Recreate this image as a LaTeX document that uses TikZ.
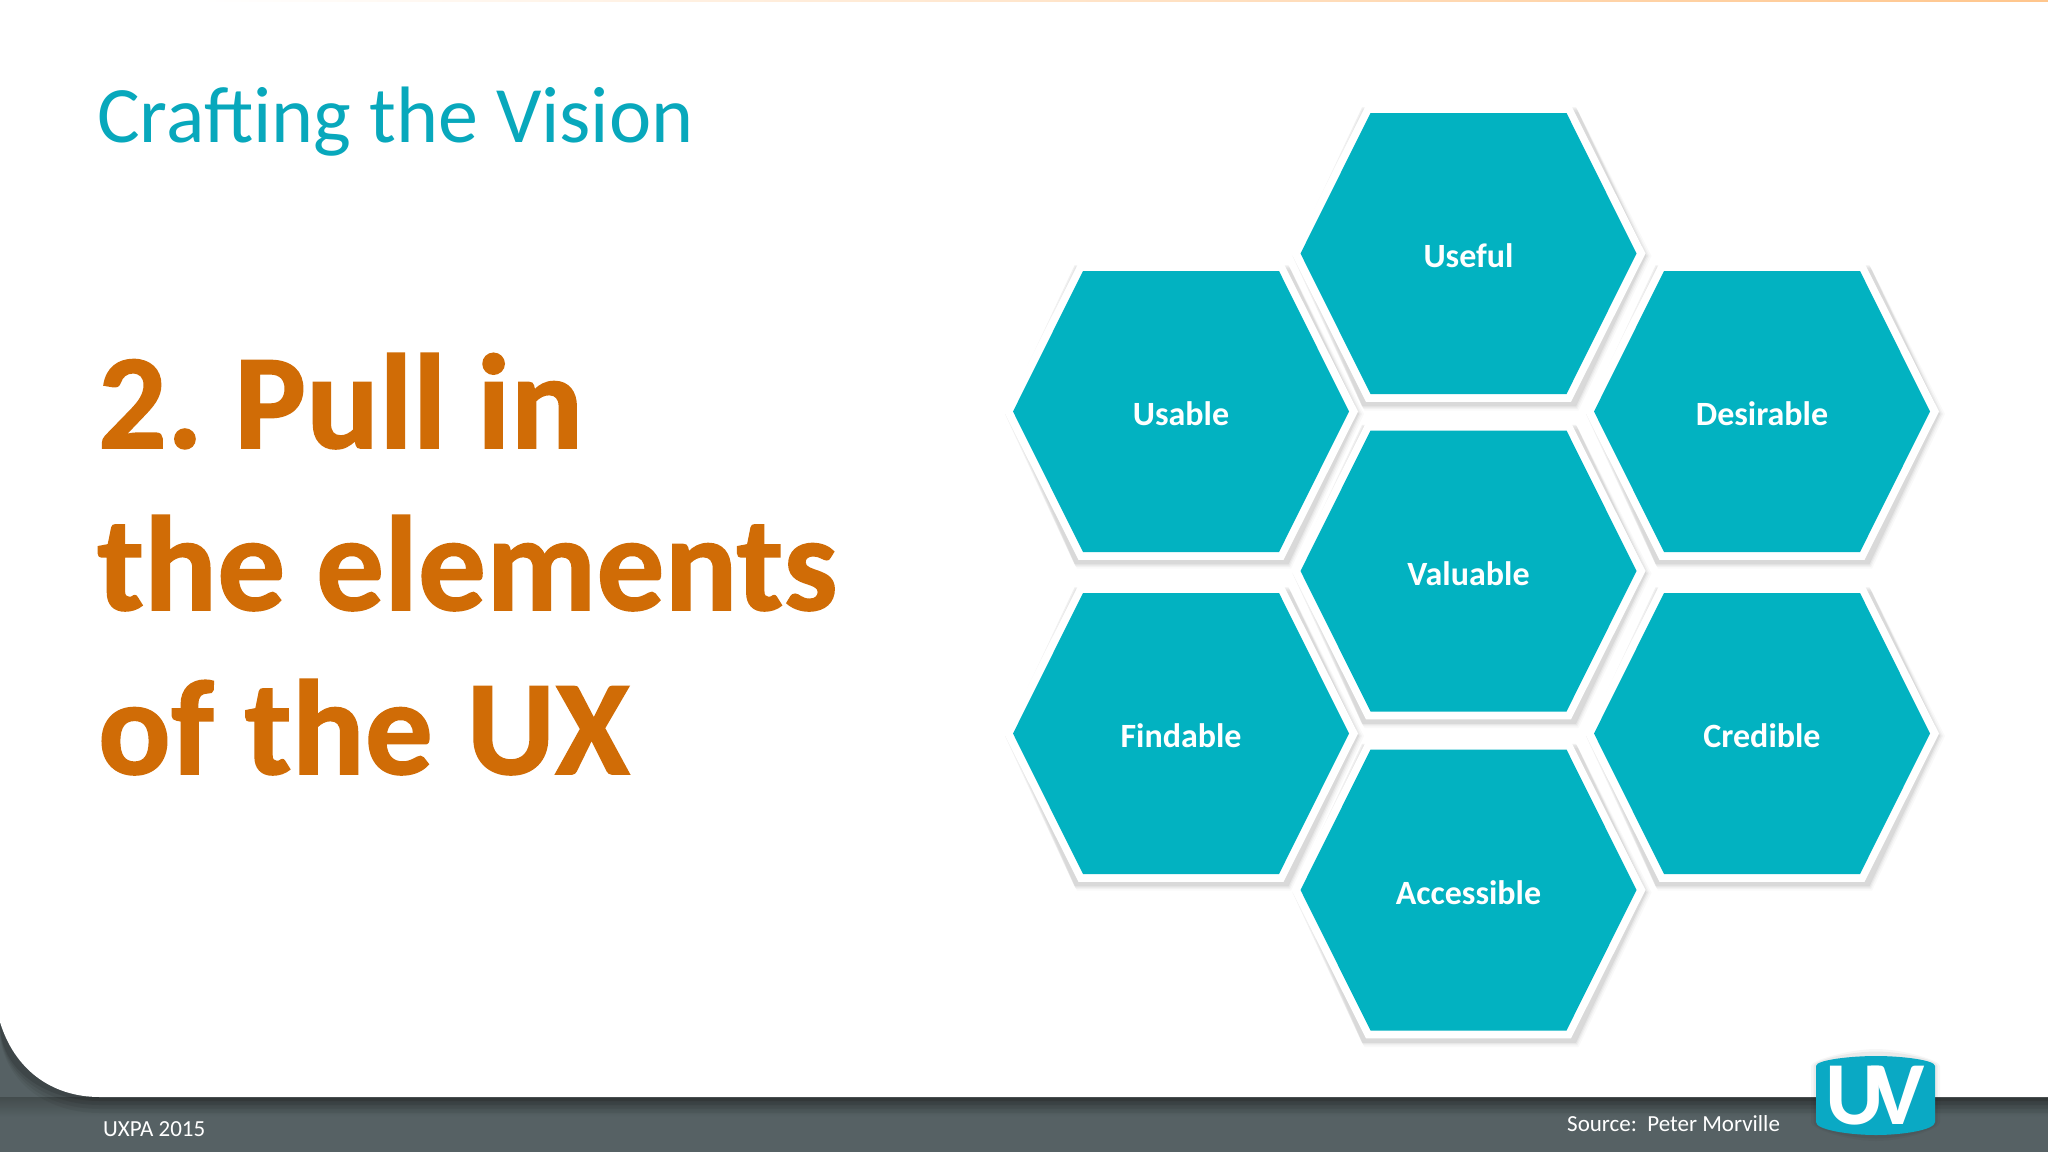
\documentclass[tikz,border=0pt]{standalone}
\usepackage{fontspec}
\setmainfont{Carlito}
\newfontfamily\headfont[BoldFeatures={FakeBold=1.2},LetterSpace=0.3]{Carlito}
\definecolor{teal}{HTML}{02B2C1}
\definecolor{tealt}{HTML}{08A8BC}
\definecolor{orng}{HTML}{D06C06}
\definecolor{foot}{HTML}{566164}
\definecolor{footd}{HTML}{434C4D}
\definecolor{logoc}{HTML}{0AA9C4}
\newcommand{\hexpath}[3]{(#1-168-#3,#2) -- (#1-98-#3*.5,#2-140.5-#3*.866) -- (#1+98+#3*.5,#2-140.5-#3*.866) -- (#1+168+#3,#2) -- (#1+98+#3*.5,#2+140.5+#3*.866) -- (#1-98-#3*.5,#2+140.5+#3*.866) -- cycle}
\newcommand{\hexcell}[4]{%
  \foreach \w/\o in {6/.025,4/.03,2.5/.04,1/.06}{\fill[black,opacity=\o] \hexpath{#1}{#2+2.5}{9+\w};}
  \fill[white] \hexpath{#1}{#2}{9};
  \fill[teal] \hexpath{#1}{#2}{0};
  \node[hexlabel] (#3) at (#1,#2+14) {#4};}
\tikzset{
  hexlabel/.style={anchor=base,text=white,font=\fontsize{34}{34}\selectfont\bfseries,inner sep=0pt},
  heading/.style={anchor=base west,text=orng,font=\fontsize{135}{135}\selectfont\headfont\bfseries,inner sep=0pt},
  foottext/.style={anchor=base west,text=white,font=\fontsize{23}{23}\selectfont,inner sep=0pt}
}
\begin{document}
\begin{tikzpicture}[x=1pt,y=-1pt]
\useasboundingbox (0,0) rectangle (2048,1152);
\fill[foot] (0,0) rectangle (2048,1152);
\shade[top color=footd,bottom color=foot] (0,1097) rectangle (2048,1117);
\foreach \w/\o in {16/.05,12/.06,8/.08,4/.10}{
  \fill[black,opacity=\o] (0,0) -- (0,1022+\w) .. controls (0+\w*.5,1070+\w) and (50,1097+\w) .. (100,1097+\w) -- (2048,1097+\w) -- (2048,0) -- cycle;}
\fill[white] (0,0) -- (0,1022) .. controls (14,1068) and (50,1097) .. (100,1097) -- (2048,1097) -- (2048,0) -- cycle;
\shade[left color=white,right color=orange!45!white] (200,0) rectangle (2048,1.5);
\node[anchor=base west,text=tealt,font=\fontsize{80}{80}\selectfont,inner sep=0pt] (title) at (97,142) {Crafting the Vision};
\node[heading] (line1) at (98,448) {2.\kern-10pt{} Pull in};
\node[heading] (line2) at (97,610) {the elements};
\node[heading] (line3) at (98,774) {of the \kern3pt{}UX};
\hexcell{1468.5}{253.5}{useful}{Useful}
\hexcell{1181}{411.5}{usable}{Usable}
\hexcell{1762}{411.5}{desirable}{Desirable}
\hexcell{1468.5}{571}{valuable}{Valuable}
\hexcell{1181}{733.5}{findable}{Findable}
\hexcell{1762}{733.5}{credible}{Credible}
\hexcell{1468.5}{890}{accessible}{Accessible}
\node[foottext] (uxpa) at (103,1136) {UXPA 2015};
\node[foottext] (source) at (1567,1131) {Source:\ \ Peter Morville};
\foreach \w/\o in {5/.03,2.5/.05}{
\fill[black,opacity=\o] (1816-\w,1066) .. controls (1816-\w,1060) and (1850,1054-\w) .. (1876,1054-\w) .. controls (1902,1054-\w) and (1935+\w,1060) .. (1935+\w,1066) -- (1935+\w,1122) .. controls (1935+\w,1130) and (1902,1136+\w) .. (1876,1136+\w) .. controls (1850,1136+\w) and (1816-\w,1130) .. (1816-\w,1122) -- cycle;}
\fill[logoc] (1816,1066) .. controls (1816,1060) and (1850,1056) .. (1876,1056) .. controls (1902,1056) and (1935,1060) .. (1935,1066) -- (1935,1122) .. controls (1935,1130) and (1902,1135) .. (1876,1135) .. controls (1850,1135) and (1816,1130) .. (1816,1122) -- cycle;
\node[anchor=base,text=white,font=\fontsize{90}{90}\selectfont\bfseries,inner sep=0pt] (logo) at (1875,1124) {U\kern-13pt V};
\end{tikzpicture}
\end{document}
